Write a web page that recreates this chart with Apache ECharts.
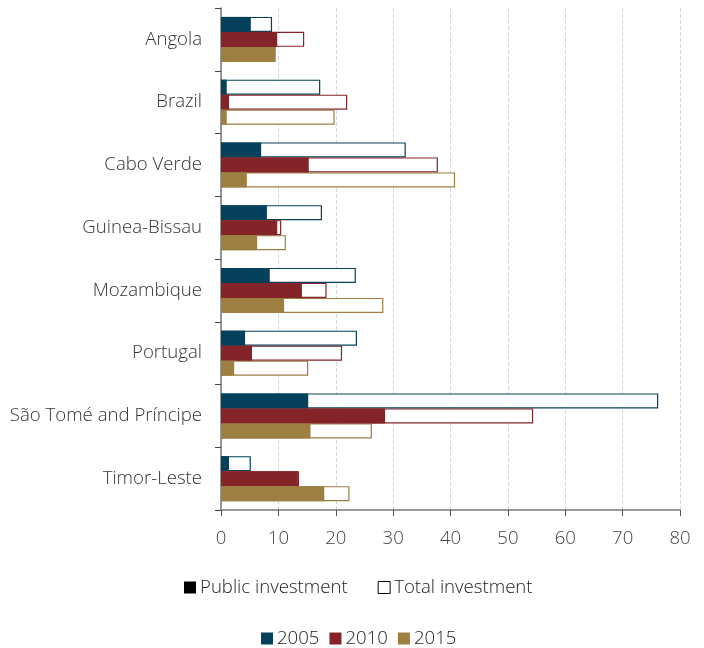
<!DOCTYPE html>
<html><head><meta charset="utf-8">
<script src="https://cdn.jsdelivr.net/npm/echarts@6/dist/echarts.min.js"></script>
<style>html,body{margin:0;padding:0;background:#fff}#c{width:704px;height:648px}</style>
</head><body><div id="c"></div>
<script>
const categories = ['Angola','Brazil','Cabo Verde','Guinea-Bissau','Mozambique','Portugal','São Tomé and Príncipe','Timor-Leste'];
const years = ['2005','2010','2015'];
const public2005 = [5.2, 1.0, 7.0, 8.0, 8.5, 4.2, 15.2, 1.4];
const total2005  = [8.9, 17.3, 32.2, 17.6, 23.5, 23.7, 76.2, 5.2];
const public2010 = [9.8, 1.4, 15.3, 9.8, 14.1, 5.4, 28.6, 13.4];
const total2010  = [14.5, 22.0, 37.8, 10.5, 18.4, 21.1, 54.4, 13.6];
const public2015 = [9.5, 1.0, 4.5, 6.3, 11.0, 2.3, 15.6, 18.0];
const total2015  = [9.5, 19.8, 40.8, 11.3, 28.3, 15.2, 26.3, 22.4];
const xTicks = [0, 10, 20, 30, 40, 50, 60, 70, 80];

const colors = {'2005': '#06415c', '2010': '#852428', '2015': '#9c7f41'};
const publicData = {'2005': public2005, '2010': public2010, '2015': public2015};
const totalData = {'2005': total2005, '2010': total2010, '2015': total2015};
const FONT = "'Open Sans', 'Noto Sans', sans-serif";

const series = [];
years.forEach(y => {
  series.push({
    name: y, type: 'bar', yAxisIndex: 0, barWidth: 15, barGap: '0%',
    data: totalData[y],
    itemStyle: {color: '#ffffff', borderColor: colors[y], borderWidth: 1.2},
    silent: true, z: 2
  });
});
years.forEach(y => {
  series.push({
    name: y, type: 'bar', yAxisIndex: 1, barWidth: 15, barGap: '0%',
    data: publicData[y],
    itemStyle: {color: colors[y]},
    silent: true, z: 3
  });
});
series.push({name: 'Public investment', type: 'line', data: [], yAxisIndex: 0});
series.push({name: 'Total investment', type: 'line', data: [], yAxisIndex: 0});

const yBase = {
  type: 'category', data: categories, inverse: true
};
const textBase = {fontFamily: FONT, fontWeight: 300, fontSize: 18.6};

const option = {
  animation: false,
  textStyle: {fontFamily: FONT},
  grid: {left: 221, right: 24, top: 8, bottom: 138, containLabel: false},
  xAxis: {
    type: 'value', min: 0, max: 80, interval: 10,
    axisLine: {show: true, lineStyle: {color: '#777', width: 1.5}},
    axisTick: {show: true, length: 6, lineStyle: {color: '#555'}},
    axisLabel: Object.assign({color: '#444', margin: 19,
      formatter: v => xTicks.includes(v) ? String(v) : ''}, textBase),
    splitLine: {show: true, lineStyle: {color: '#d9d9d9', type: 'dashed'}}
  },
  yAxis: [
    Object.assign({}, yBase, {
      axisLine: {show: true, lineStyle: {color: '#777', width: 1.5}},
      axisTick: {show: true, length: 6, lineStyle: {color: '#444'}},
      axisLabel: Object.assign({color: '#333', margin: 19}, textBase),
      splitLine: {show: false}
    }),
    Object.assign({}, yBase, {
      position: 'left', show: false
    })
  ],
  legend: [
    {
      left: 179, top: 573, itemWidth: 12, itemHeight: 12, itemGap: 30,
      textStyle: Object.assign({color: '#222', padding: [0, 0, 0, -1]}, textBase),
      icon: 'rect',
      data: [
        {name: 'Public investment', icon: 'rect', itemStyle: {color: '#000', borderWidth: 0}},
        {name: 'Total investment', icon: 'rect', itemStyle: {color: '#fff', borderColor: '#000', borderWidth: 1}}
      ],
      selectedMode: false
    },
    {
      left: 256, top: 624, itemWidth: 12, itemHeight: 12, itemGap: 10,
      textStyle: Object.assign({color: '#222', padding: [0, 0, 0, -1]}, textBase),
      icon: 'rect',
      data: years.map(y => ({name: y, icon: 'rect', itemStyle: {color: colors[y], borderWidth: 0}})),
      selectedMode: false
    }
  ],
  series: series
};
const chart = echarts.init(document.getElementById('c'), null, {renderer: 'canvas'});
chart.setOption(option);
</script></body></html>
